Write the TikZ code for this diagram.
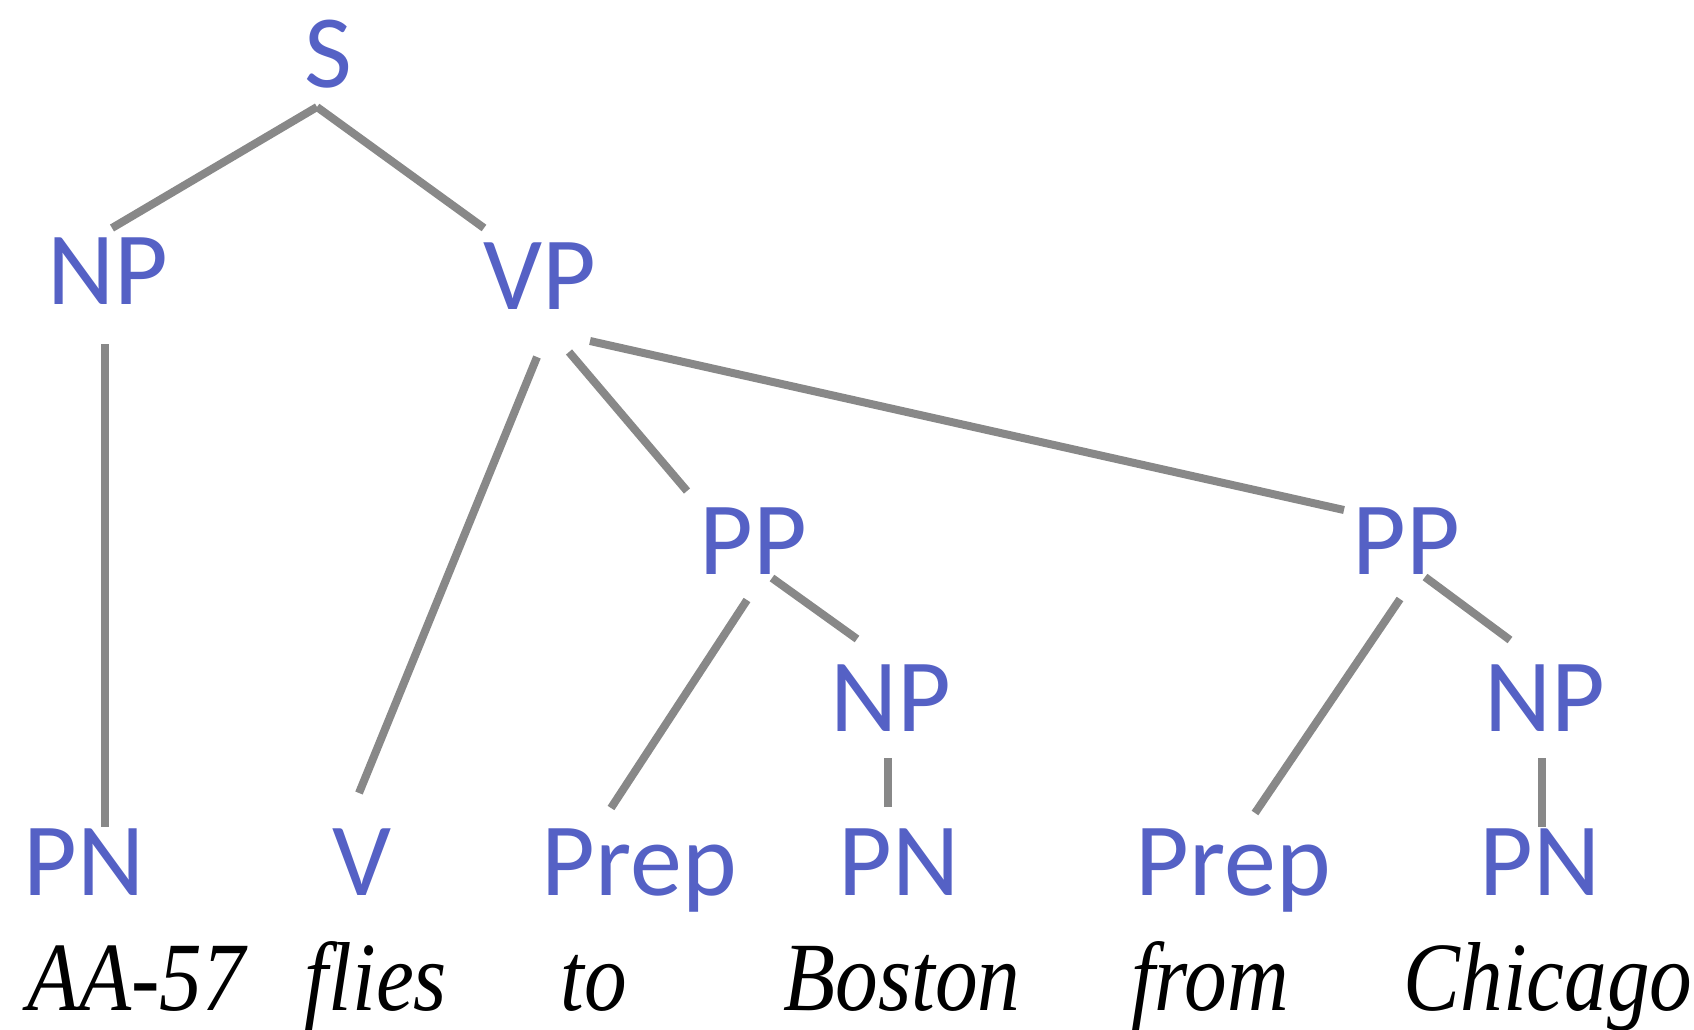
\documentclass[tikz,border=0pt]{standalone}
\usepackage{fontspec}
\newfontfamily\catfont{Carlito}
\newfontfamily\wordfont{Liberation Serif}
\definecolor{catblue}{HTML}{5561C5}
\definecolor{edgegray}{HTML}{888888}
\begin{document}
\begin{tikzpicture}[x=1pt,y=-1pt,
  cat/.style={inner sep=0pt, anchor=base, text=catblue, font=\catfont\fontsize{104}{104}\selectfont},
  word/.style={inner sep=0pt, anchor=base, xscale=0.87, transform shape, font=\wordfont\itshape\fontsize{98}{98}\selectfont},
  branch/.style={draw=edgegray, line width=8pt}]
\useasboundingbox (0,0) rectangle (1694,1029);

% categories
\node[cat] (S)    at (328,87)   {S};
\node[cat] (NPa)  at (108,304)  {NP};
\node[cat] (VP)   at (540,309)  {VP};
\node[cat] (PPa)  at (753,574)  {PP};
\node[cat] (PPb)  at (1406,574) {PP};
\node[cat] (NPb)  at (891,731)  {NP};
\node[cat] (NPc)  at (1545,731) {NP};
\node[cat] (PNa)  at (84,895)   {PN};
\node[cat] (V)    at (362,895)  {V};
\node[cat] (Prepa) at (639,895) {Prep};
\node[cat] (PNb)  at (899,895)  {PN};
\node[cat] (Prepb) at (1233,895) {Prep};
\node[cat] (PNc)  at (1540,895) {PN};

% words
\node[word] (w1) at (136,1010)  {AA-57};
\node[word] (w2) at (376,1010)  {flies};
\node[word] (w3) at (594,1010)  {to};
\node[word] (w4) at (902,1010)  {Boston};
\node[word] (w5) at (1210,1010) {from};
\node[word] (w6) at (1548,1010) {Chicago};

% branches
\draw[branch] ([shift={(-11,20)}]S.base) -- ([shift={(4,-76)}]NPa.base);
\draw[branch] ([shift={(-11,20)}]S.base) -- ([shift={(-56,-81)}]VP.base);
\draw[branch] ([shift={(-3,40)}]NPa.base) -- ([shift={(21,-68)}]PNa.base);
\draw[branch] ([shift={(-3,48)}]VP.base) -- ([shift={(-3,-102)}]V.base);
\draw[branch] ([shift={(29,43)}]VP.base) -- ([shift={(-66,-83)}]PPa.base);
\draw[branch] ([shift={(50,32)}]VP.base) -- ([shift={(-62,-64)}]PPb.base);
\draw[branch] ([shift={(-6,26)}]PPa.base) -- ([shift={(-28,-87)}]Prepa.base);
\draw[branch] ([shift={(19,4)}]PPa.base) -- ([shift={(-34,-92)}]NPb.base);
\draw[branch] ([shift={(-3,27)}]NPb.base) -- ([shift={(-11,-88)}]PNb.base);
\draw[branch] ([shift={(-6,25)}]PPb.base) -- ([shift={(22,-82)}]Prepb.base);
\draw[branch] ([shift={(19,3)}]PPb.base) -- ([shift={(-35,-91)}]NPc.base);
\draw[branch] ([shift={(-3,27)}]NPc.base) -- ([shift={(2,-68)}]PNc.base);
\end{tikzpicture}
\end{document}
